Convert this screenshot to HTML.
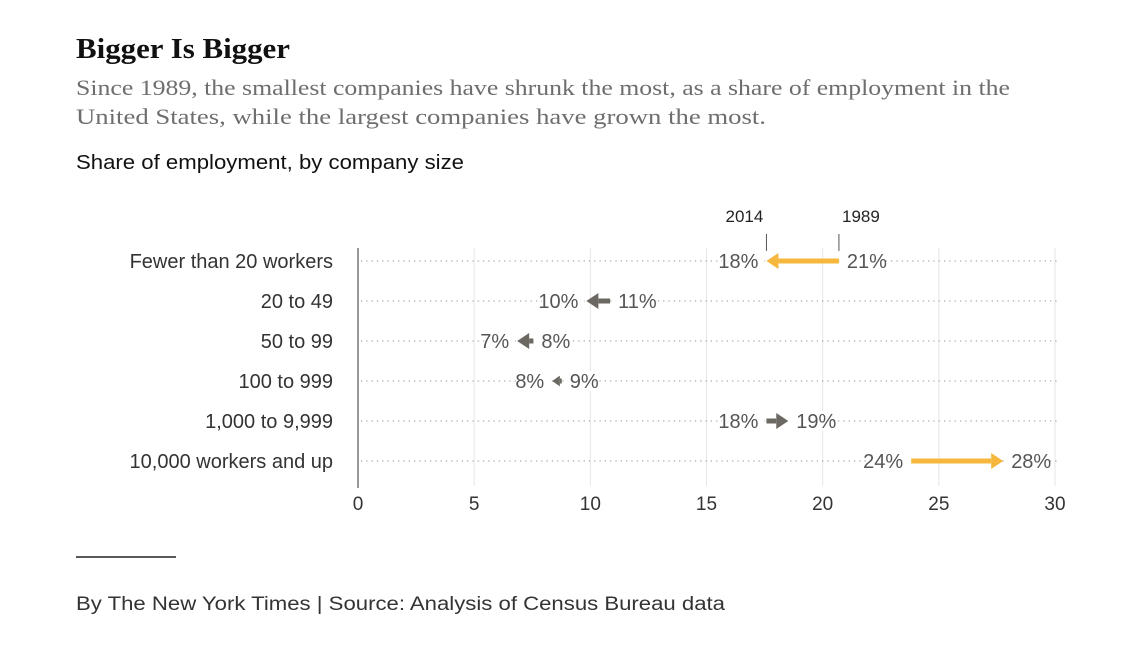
<!DOCTYPE html>
<html><head><meta charset="utf-8"><style>
body{margin:0;background:#fff;}
svg{display:block;}
</style></head><body>
<svg id="chart" width="1134" height="671" xmlns="http://www.w3.org/2000/svg">
<text x="76" y="58" font-family="Liberation Serif, serif" font-weight="bold" font-size="29" fill="#111" textLength="214" lengthAdjust="spacingAndGlyphs">Bigger Is Bigger</text>
<text x="76" y="95" font-family="Liberation Serif, serif" font-size="22" fill="#6e6e6e" textLength="934" lengthAdjust="spacingAndGlyphs">Since 1989, the smallest companies have shrunk the most, as a share of employment in the</text>
<text x="76" y="124" font-family="Liberation Serif, serif" font-size="22" fill="#6e6e6e" textLength="690" lengthAdjust="spacingAndGlyphs">United States, while the largest companies have grown the most.</text>
<text x="76" y="169" font-family="Liberation Sans, sans-serif" font-size="20" fill="#111" textLength="388" lengthAdjust="spacingAndGlyphs">Share of employment, by company size</text>
<g id="plot"></g>
<line x1="76" y1="557" x2="176" y2="557" stroke="#222" stroke-width="1.5"/>
<text x="76" y="610" font-family="Liberation Sans, sans-serif" font-size="19" fill="#333" textLength="649" lengthAdjust="spacingAndGlyphs">By The New York Times | Source: Analysis of Census Bureau data</text>
</svg>
<script>
const categories = ["Fewer than 20 workers","20 to 49","50 to 99","100 to 999","1,000 to 9,999","10,000 workers and up"];
const values1989 = [20.7, 10.85, 7.55, 8.77, 17.58, 23.81];
const values2014 = [17.58, 9.83, 6.85, 8.36, 18.52, 27.77];
const labels1989 = ["21%","11%","8%","9%","18%","24%"];
const labels2014 = ["18%","10%","7%","8%","19%","28%"];
const highlight = [true,false,false,false,false,true];
const xTicks = [0,5,10,15,20,25,30];

const NS="http://www.w3.org/2000/svg";
const g=document.getElementById('plot');
const x0=358,x1=1055,xmin=0,xmax=30;
const xs=v=>x0+(v-xmin)/(xmax-xmin)*(x1-x0);
const rowY0=261,rowStep=40;
const ys=i=>rowY0+i*rowStep;
function mk(tag,attrs,parent){const e=document.createElementNS(NS,tag);for(const k in attrs)e.setAttribute(k,attrs[k]);(parent||g).appendChild(e);return e;}
const font="Liberation Sans, sans-serif";

xTicks.forEach(t=>{
  if(t>0){
    const l=mk('line',{x1:xs(t),x2:xs(t),y1:248,y2:486,stroke:'#e6e6e6','stroke-width':1});
    
    
  }
  const tx=mk('text',{x:xs(t),y:510,'text-anchor':'middle','font-family':font,'font-size':19,fill:'#333'});
  tx.textContent=t;
  
  
});
const ax=mk('line',{x1:x0,x2:x0,y1:248,y2:488,stroke:'#777','stroke-width':1.5});



categories.forEach((c,i)=>{
  const y=ys(i);
  const dl=mk('line',{x1:x0+3,x2:1060,y1:y,y2:y,stroke:'#aaa','stroke-width':1.3,'stroke-dasharray':'1.3 4'});
  
  
  const lab=mk('text',{x:333,y:y+7,'text-anchor':'end','font-family':font,'font-size':20,fill:'#333'});
  lab.textContent=c;
  
  
  const a=xs(values1989[i]),b=xs(values2014[i]);
  const col=highlight[i]?'#f5b83d':'#6b6761';
  const dir=b>a?1:-1;
  const len=Math.abs(b-a);
  const head=Math.min(12,len*0.8);
  const hb=b-dir*head;
  const wl=labels2014[i], wr=labels1989[i];
  const leftX=Math.min(a,b), rightX=Math.max(a,b);
  const leftLab=dir<0?wl:wr, rightLab=dir<0?wr:wl;
  const bw1=leftLab.length*11.5+4, bw2=rightLab.length*11.5+4;
  mk('rect',{x:leftX-6-bw1,y:y-10,width:bw1+4,height:20,fill:'#fff'});
  mk('rect',{x:rightX+2,y:y-10,width:bw2+4,height:20,fill:'#fff'});
  if(len-head>0.5){
    const st=mk('line',{x1:a,x2:hb,y1:y,y2:y,stroke:col,'stroke-width':5});
    
    
  }
  const hh=Math.min(8,Math.max(4,head*0.7));
  const tri=mk('polygon',{points:`${b},${y} ${hb},${y-hh} ${hb},${y+hh}`,fill:col});
  
  
  const t1=mk('text',{x:leftX-8,y:y+7,'text-anchor':'end','font-family':font,'font-size':20,fill:'#555'});
  t1.textContent=leftLab;
  
  
  const t2=mk('text',{x:rightX+8,y:y+7,'text-anchor':'start','font-family':font,'font-size':20,fill:'#555'});
  t2.textContent=rightLab;
  
  
  if(i===0){
    [[b,'2014'],[a,'1989']].forEach(([px,yr])=>{
      const tk=mk('line',{x1:px,x2:px,y1:234,y2:251,stroke:'#555','stroke-width':1});
      
      
      const yt=mk('text',{x:px+(yr==='2014'?-22:22),y:222,'text-anchor':'middle','font-family':font,'font-size':17,fill:'#222'});
      yt.textContent=yr;
      
      
    });
  }
});
</script>
</body></html>
